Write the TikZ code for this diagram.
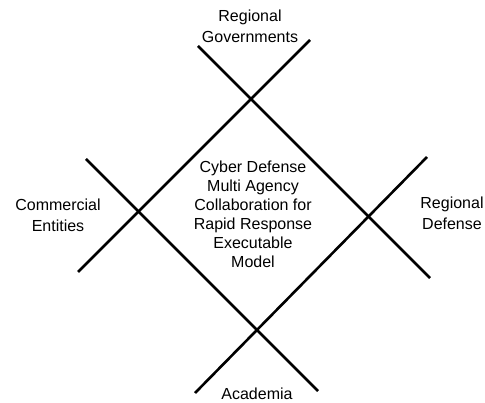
\documentclass[tikz,border=0pt]{standalone}
\usepackage{fontspec}
\setmainfont{Liberation Sans}
\begin{document}
\begin{tikzpicture}[x=1pt,y=-1pt,
  bar/.style={line width=2.6pt,black},
  lbl/.style={align=center,inner sep=0pt,font=\fontsize{16}{21}\selectfont}]
\useasboundingbox (0,0) rectangle (485,403);
% line end points
\coordinate (a1) at (198,46);  \coordinate (a2) at (430,278);
\coordinate (b1) at (310,40);  \coordinate (b2) at (78,272);
\coordinate (c1) at (86,159);  \coordinate (c2) at (318,391);
\coordinate (d1) at (427,157); \coordinate (d2) at (195,393);
\draw[bar] (a1) -- (a2);
\draw[bar] (b1) -- (b2);
\draw[bar] (c1) -- (c2);
\draw[bar] (d1) -- (d2);
\node[lbl,font=\fontsize{16}{19}\selectfont] (center) at (253,214) {Cyber Defense\\Multi Agency\\Collaboration for\\Rapid Response\\Executable\\Model};
\node[lbl] (top) at (250,26) {Regional\\Governments};
\node[lbl] (left) at (58,215) {Commercial\\Entities};
\node[lbl] (right) at (452,213) {Regional\\Defense};
\node[lbl] (bottom) at (257,394) {Academia};
\end{tikzpicture}
\end{document}
